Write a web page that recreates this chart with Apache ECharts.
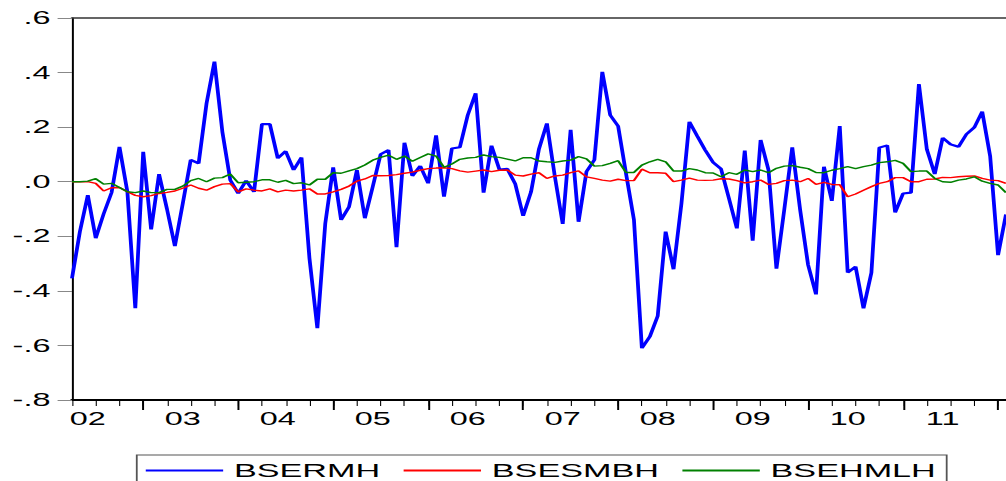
<!DOCTYPE html>
<html>
<head>
<meta charset="utf-8">
<title>BSERMH, BSESMBH, BSEHMLH</title>
<script src="https://cdn.jsdelivr.net/npm/echarts@6/dist/echarts.min.js"></script>
<style>
  html, body { margin: 0; padding: 0; background: #fff; overflow: hidden; }
  /* The chart is laid out in a narrow frame and widened horizontally,
     giving the wide lettering and heavy vertical strokes of the figure. */
  #chart {
    width: 559px;
    height: 481px;
    transform: scaleX(1.7996);
    transform-origin: 0 0;
  }
</style>
</head>
<body>
<div id="chart"></div>
<script>
// Monthly observations, 2002M04 onward
const startYear = 2002;
const startMonth = 4;

const BSERMH = [
  -0.354, -0.183, -0.049, -0.207, -0.118, -0.040, 0.128, -0.037, -0.464, 0.110,
  -0.175, 0.028, -0.100, -0.236, -0.079, 0.080, 0.067, 0.287, 0.440, 0.183,
  0.006, -0.043, 0.004, -0.037, 0.211, 0.211, 0.086, 0.112, 0.043, 0.089,
  -0.280, -0.537, -0.153, 0.053, -0.140, -0.092, 0.043, -0.134, -0.018, 0.101,
  0.116, -0.240, 0.143, 0.021, 0.058, -0.006, 0.170, -0.055, 0.122, 0.126,
  0.244, 0.324, -0.040, 0.132, 0.045, 0.047, -0.008, -0.125, -0.037, 0.120,
  0.214, 0.020, -0.155, 0.190, -0.147, 0.037, 0.080, 0.403, 0.244, 0.204,
  0.030, -0.140, -0.610, -0.568, -0.492, -0.183, -0.321, -0.080, 0.220, 0.167,
  0.116, 0.071, 0.047, -0.061, -0.171, 0.114, -0.216, 0.153, 0.043, -0.319,
  -0.100, 0.126, -0.104, -0.305, -0.413, 0.055, -0.070, 0.204, -0.333, -0.311,
  -0.464, -0.333, 0.125, 0.133, -0.113, -0.043, -0.040, 0.358, 0.119, 0.028,
  0.161, 0.137, 0.128, 0.174, 0.199, 0.257, 0.094, -0.269, -0.120
];

const BSESMBH = [
  0.000, 0.000, 0.000, -0.006, -0.034, -0.022, -0.021, -0.037, -0.050, -0.055,
  -0.051, -0.043, -0.039, -0.034, -0.024, -0.012, -0.024, -0.031, -0.018, -0.009,
  -0.007, -0.037, -0.026, -0.031, -0.034, -0.026, -0.037, -0.031, -0.034, -0.031,
  -0.026, -0.045, -0.045, -0.037, -0.028, -0.016, 0.002, 0.010, 0.023, 0.022,
  0.023, 0.026, 0.031, 0.035, 0.042, 0.048, 0.050, 0.051, 0.048, 0.040,
  0.035, 0.039, 0.043, 0.037, 0.042, 0.043, 0.024, 0.021, 0.028, 0.033,
  0.012, 0.021, 0.024, 0.033, 0.040, 0.018, 0.012, 0.006, 0.002, 0.009,
  0.004, 0.004, 0.046, 0.033, 0.033, 0.031, 0.000, 0.006, 0.013, 0.006,
  0.005, 0.006, 0.011, 0.010, 0.004, -0.004, 0.000, 0.006, -0.010, -0.006,
  0.004, 0.006, 0.000, 0.012, -0.010, -0.002, -0.010, -0.011, -0.055, -0.045,
  -0.031, -0.018, -0.006, 0.000, 0.015, 0.015, 0.000, 0.000, 0.009, 0.010,
  0.016, 0.015, 0.018, 0.020, 0.021, 0.012, 0.006, 0.004, -0.006
];

const BSEHMLH = [
  0.000, 0.000, 0.002, 0.011, -0.009, -0.006, -0.021, -0.037, -0.040, -0.034,
  -0.040, -0.040, -0.028, -0.028, -0.016, 0.004, 0.012, 0.000, 0.013, 0.015,
  0.028, -0.004, -0.002, 0.000, 0.007, 0.007, -0.002, 0.005, -0.007, -0.004,
  -0.012, 0.009, 0.009, 0.033, 0.031, 0.040, 0.048, 0.061, 0.079, 0.089,
  0.097, 0.082, 0.094, 0.075, 0.089, 0.102, 0.094, 0.053, 0.065, 0.082,
  0.087, 0.089, 0.098, 0.092, 0.089, 0.083, 0.076, 0.088, 0.088, 0.076,
  0.073, 0.071, 0.076, 0.079, 0.092, 0.084, 0.057, 0.059, 0.067, 0.077,
  0.034, 0.034, 0.061, 0.073, 0.082, 0.073, 0.039, 0.039, 0.048, 0.043,
  0.033, 0.032, 0.018, 0.033, 0.027, 0.043, 0.037, 0.043, 0.033, 0.049,
  0.057, 0.059, 0.053, 0.048, 0.034, 0.033, 0.042, 0.048, 0.055, 0.048,
  0.055, 0.061, 0.070, 0.073, 0.078, 0.067, 0.037, 0.039, 0.039, 0.012,
  0.000, -0.002, 0.006, 0.010, 0.018, 0.002, -0.006, -0.012, -0.040
];

// Month labels such as "2002M04"
const months = [];
for (let k = 0; k < BSERMH.length; k++) {
  const m0 = startMonth - 1 + k;
  const y = startYear + Math.floor(m0 / 12);
  const m = (m0 % 12) + 1;
  months.push(y + 'M' + (m < 10 ? '0' + m : m));
}

const monthOf = (label) => parseInt(label.slice(5), 10);
const yearTag = (label) => label.slice(2, 4);

const FONT = 'Liberation Sans, Arial, sans-serif';

const chart = echarts.init(document.getElementById('chart'), null, { renderer: 'svg' });

chart.setOption({
  animation: false,
  backgroundColor: '#ffffff',
  grid: { left: 40, right: 0, top: 18, bottom: 81, containLabel: false },
  legend: {
    left: 76,
    top: 455,
    orient: 'horizontal',
    icon: 'rect',
    itemWidth: 43,
    itemHeight: 2,
    itemGap: 13,
    padding: [6, 6, 8, 5],
    borderColor: '#555',
    borderWidth: 1,
    textStyle: {
      fontFamily: FONT, fontSize: 19, lineHeight: 17, color: '#000',
      padding: [0, 0, 0, 1]
    },
    data: ['BSERMH', 'BSESMBH', 'BSEHMLH']
  },
  xAxis: [
    {
      // quarterly ticks and year labels
      type: 'category',
      data: months,
      boundaryGap: false,
      position: 'bottom',
      axisLine: { show: true, onZero: false, lineStyle: { color: '#000', width: 2 } },
      axisTick: {
        show: true,
        interval: (i, v) => (monthOf(v) - 1) % 3 === 0,
        length: 6,
        lineStyle: { color: '#000', width: 0.6 }
      },
      axisLabel: {
        interval: (i, v) => monthOf(v) === 6,
        formatter: (v) => yearTag(v),
        margin: 10,
        fontFamily: FONT,
        fontSize: 18,
        color: '#000'
      },
      splitLine: { show: false }
    },
    {
      // longer ticks at the start of each year
      type: 'category',
      data: months,
      boundaryGap: false,
      position: 'bottom',
      axisLine: { show: false, onZero: false },
      axisTick: {
        show: true,
        interval: (i, v) => monthOf(v) === 1,
        length: 10,
        lineStyle: { color: '#000', width: 1.1 }
      },
      axisLabel: { show: false },
      splitLine: { show: false }
    },
    {
      // upper frame line
      type: 'category',
      data: months,
      boundaryGap: false,
      position: 'top',
      axisLine: { show: true, onZero: false, lineStyle: { color: '#333', width: 1.5 } },
      axisTick: { show: false },
      axisLabel: { show: false },
      splitLine: { show: false }
    }
  ],
  yAxis: {
    type: 'value',
    min: -0.8,
    max: 0.6,
    interval: 0.2,
    axisLine: { show: true, onZero: false, lineStyle: { color: '#000', width: 1.1 } },
    axisTick: { show: true, inside: false, length: 8, lineStyle: { color: '#888', width: 1 } },
    axisLabel: {
      margin: 12,
      fontFamily: FONT,
      fontSize: 18,
      color: '#000',
      formatter: (v) => {
        const s = (Math.round(v * 10) / 10).toFixed(1);
        return s.replace('0.', '.');
      }
    },
    splitLine: { show: false }
  },
  series: [
    {
      name: 'BSERMH', type: 'line', data: BSERMH, xAxisIndex: 0,
      symbol: 'none', color: '#0000ff',
      lineStyle: { color: '#0000ff', width: 2.1 }
    },
    {
      name: 'BSESMBH', type: 'line', data: BSESMBH, xAxisIndex: 0,
      symbol: 'none', color: '#ff0000',
      lineStyle: { color: '#ff0000', width: 1.4 }
    },
    {
      name: 'BSEHMLH', type: 'line', data: BSEHMLH, xAxisIndex: 0,
      symbol: 'none', color: '#008000',
      lineStyle: { color: '#008000', width: 1.4 }
    }
  ]
});
</script>
</body>
</html>
